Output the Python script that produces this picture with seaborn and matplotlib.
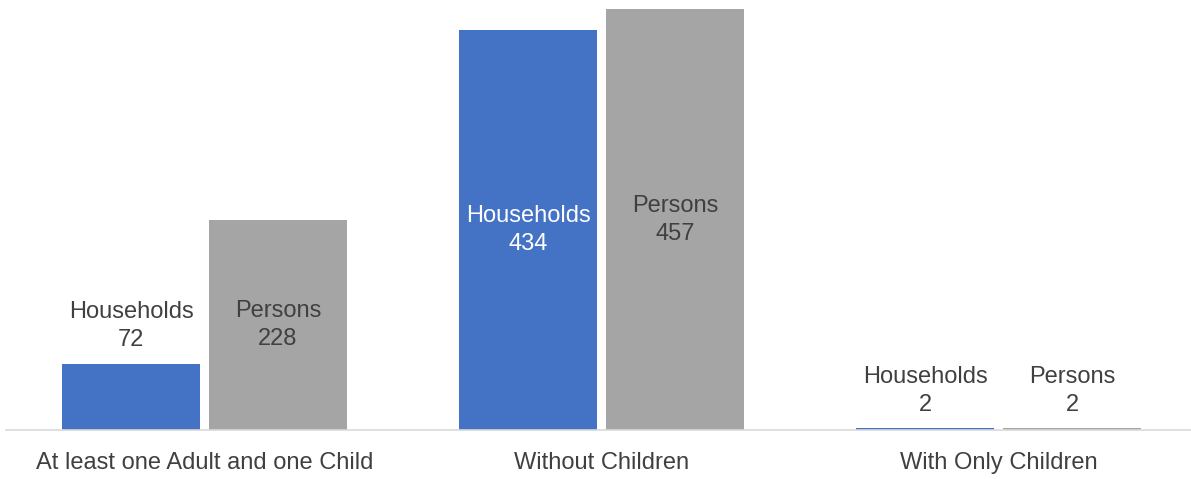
import matplotlib
matplotlib.use("Agg")
import matplotlib.pyplot as plt
import seaborn as sns
import pandas as pd

categories = ["At least one Adult and one Child", "Without Children", "With Only Children"]
series = ["Households", "Persons"]
households = [72, 434, 2]
persons = [228, 457, 2]

colors = ["#4472C4", "#A5A5A5"]
text_color = "#404040"

df = pd.DataFrame({
    "category": categories * 2,
    "series": [series[0]] * 3 + [series[1]] * 3,
    "value": households + persons,
})

sns.set_style("white")
plt.rcParams["font.family"] = ["Liberation Sans", "DejaVu Sans"]

fig = plt.figure(figsize=(11.91, 4.79), dpi=100)
ax = fig.add_axes([6 / 1191, 49 / 479, 1.0, 430 / 479])

sns.barplot(data=df, x="category", y="value", hue="series", palette=colors,
            width=0.74, gap=0.06, saturation=1, linewidth=0, legend=False, ax=ax)

ymax = 467
ax.set_ylim(0, ymax)
ax.set_xlim(-0.5, 2.5)

fs = 17
for name, cont in zip(series, ax.containers):
    vals = [p.get_height() for p in cont]
    inside = [f"{name}\n{v:g}" if v / ymax > 0.3 else "" for v in vals]
    outside = [f"{name}\n{v:g}" if v / ymax <= 0.3 else "" for v in vals]
    inner_color = "white" if name == "Households" else text_color
    ax.bar_label(cont, labels=inside, label_type="center", fontsize=fs,
                 color=inner_color, linespacing=1.35)
    ax.bar_label(cont, labels=outside, label_type="edge", padding=9, fontsize=fs,
                 color=text_color, linespacing=1.35)

for s in ["top", "right", "left"]:
    ax.spines[s].set_visible(False)
ax.spines["bottom"].set_color("#D9D9D9")
ax.spines["bottom"].set_linewidth(1.2)
ax.set_yticks([])
ax.set_xlabel("")
ax.set_ylabel("")
ax.tick_params(axis="x", length=0, pad=16, labelsize=fs, labelcolor=text_color)

fig.savefig("out.png", dpi=100)
